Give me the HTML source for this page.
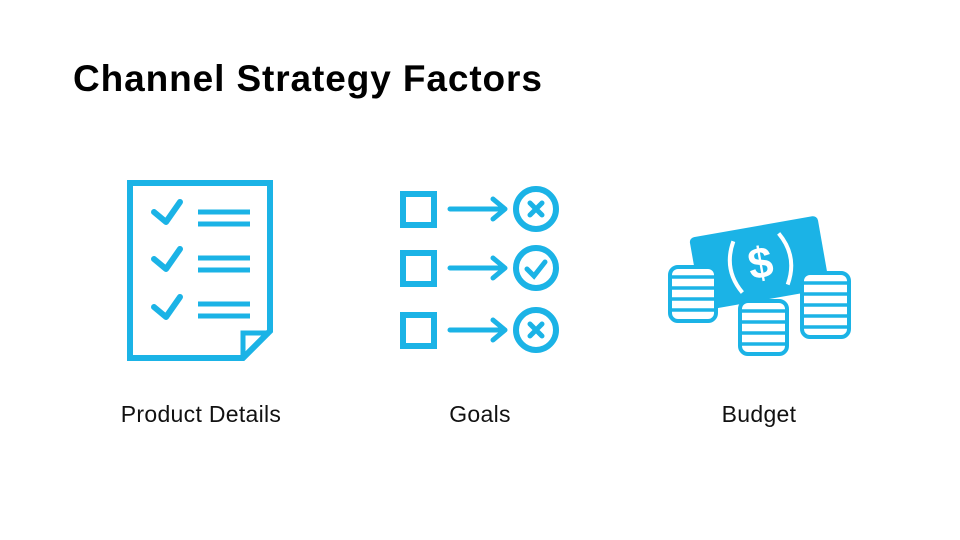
<!DOCTYPE html>
<html><head><style>
body{margin:0;width:960px;height:540px;background:#fff;position:relative;overflow:hidden;font-family:"Liberation Sans",sans-serif}
h1{position:absolute;left:73px;top:58px;margin:0;font-size:37px;font-weight:bold;color:#000;letter-spacing:0.9px}
.l{position:absolute;top:401px;font-size:23px;color:#111;text-align:center;width:260px;letter-spacing:0.3px}
</style></head><body>
<h1>Channel Strategy Factors</h1>
<svg width="960" height="540" style="position:absolute;left:0;top:0" fill="none" stroke="#1bb3e6" stroke-width="6">
<path d="M130 183H270V331L243 358H130Z"/>
<path d="M243 358V333H270" stroke-width="5"/>
<g stroke-linecap="round" stroke-linejoin="round" stroke-width="6">
<path d="M154 212L166 222L180 202"/>
<path d="M154 259L166 269L180 249"/>
<path d="M154 307L166 317L180 297"/>
</g>
<path d="M198 212H250M198 224H250M198 258H250M198 270H250M198 304H250M198 316H250" stroke-width="5"/>
<rect x="403" y="194" width="31" height="31"/>
<rect x="403" y="253" width="31" height="31"/>
<rect x="403" y="315" width="31" height="31"/>
<g stroke-width="5" stroke-linecap="round" stroke-linejoin="round">
<path d="M450 209H505M493 199L505 209L493 219"/>
<path d="M450 268H505M493 258L505 268L493 278"/>
<path d="M450 330H505M493 320L505 330L493 340"/>
</g>
<circle cx="536" cy="209" r="20"/>
<circle cx="536" cy="268" r="20"/>
<circle cx="536" cy="330" r="20"/>
<g stroke-width="5" stroke-linecap="round">
<path d="M530 203L542 215M542 203L530 215"/>
<path d="M527 269L534 276L545 262"/>
<path d="M530 324L542 336M542 324L530 336"/>
</g>
<g transform="rotate(-10 760 260)">
<rect x="694" y="226" width="130" height="74" rx="5" fill="#1bb3e6" stroke="none"/>
<path d="M737 237Q722 263 737 289M783 237Q798 263 783 289" stroke="#fff" stroke-width="4"/>
<text x="760" y="278" font-family="Liberation Sans" font-weight="bold" font-size="44" fill="#fff" stroke="none" text-anchor="middle">$</text>
</g>
<g stroke-width="4" fill="#fff">
<rect x="670" y="267" width="46" height="54" rx="8"/>
<rect x="740" y="301" width="47" height="53" rx="8"/>
<rect x="802" y="273" width="47" height="64" rx="8"/>
</g>
<g stroke-width="3.5">
<path d="M670 277H716M670 288H716M670 299H716M670 310H716"/>
<path d="M740 311H787M740 322H787M740 333H787M740 344H787"/>
<path d="M802 283H849M802 294H849M802 305H849M802 316H849M802 327H849"/>
</g>
</svg>
<div class="l" style="left:71px">Product Details</div>
<div class="l" style="left:350px">Goals</div>
<div class="l" style="left:629px">Budget</div>
</body></html>
